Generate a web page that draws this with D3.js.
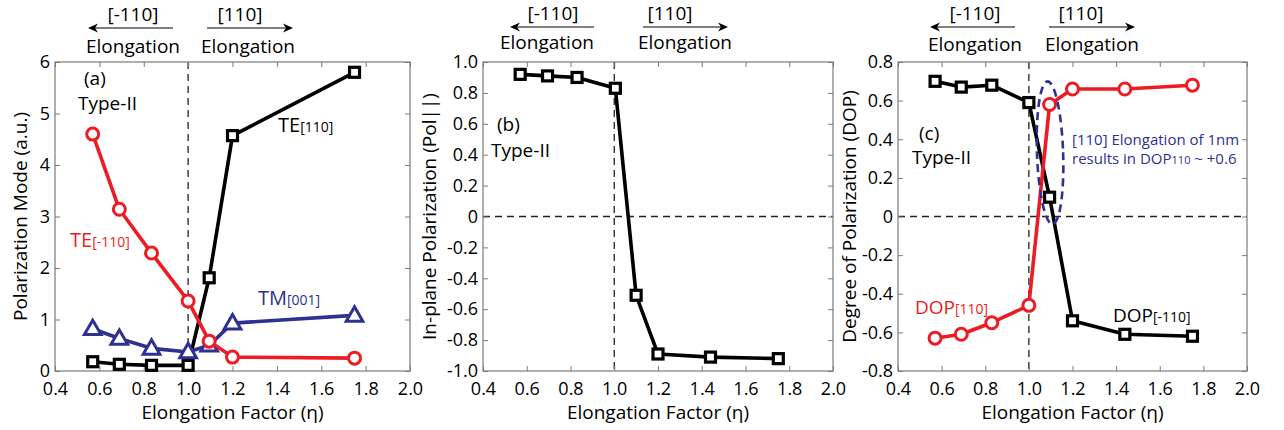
<!DOCTYPE html>
<html><head><meta charset="utf-8">
<script src="https://cdn.jsdelivr.net/npm/d3@7"></script>
<style>
body{margin:0;background:#fff}
svg{display:block}
text{font-family:"Open Sans",sans-serif}
</style>
</head><body>
<svg id="chart" width="1284" height="430"></svg>
<script>
// ---------- data ----------
const xTicks = [0.4, 0.6, 0.8, 1.0, 1.2, 1.4, 1.6, 1.8, 2.0];
const xTickLabels = ["0.4", "0.6", "0.8", "1.0", "1.2", "1.4", "1.6", "1.8", "2.0"];

// panel (a)
const etaA = [0.57, 0.69, 0.835, 1.0, 1.095, 1.2, 1.75];
const teA110 = [0.18, 0.13, 0.11, 0.11, 1.81, 4.57, 5.8];
const teAm110 = [4.6, 3.14, 2.29, 1.36, 0.58, 0.27, 0.25];
const tmA001 = [0.82, 0.63, 0.44, 0.37, 0.5, 0.93, 1.08];
const yTicksA = [0, 1, 2, 3, 4, 5, 6];
const yTickLabelsA = ["0", "1", "2", "3", "4", "5", "6"];

// panel (b)
const etaB = [0.57, 0.695, 0.83, 1.005, 1.1, 1.2, 1.44, 1.75];
const polB = [0.92, 0.91, 0.90, 0.83, -0.51, -0.89, -0.91, -0.92];
const yTicksB = [-1, -0.8, -0.6, -0.4, -0.2, 0, 0.2, 0.4, 0.6, 0.8, 1];
const yTickLabelsB = ["-1.0", "-0.8", "-0.6", "-0.4", "-0.2", "0", "0.2", "0.4", "0.6", "0.8", "1.0"];

// panel (c)
const etaC = [0.57, 0.69, 0.83, 1.0, 1.095, 1.2, 1.44, 1.75];
const dopC110 = [-0.63, -0.61, -0.55, -0.46, 0.58, 0.66, 0.66, 0.68];
const dopCm110 = [0.70, 0.67, 0.68, 0.59, 0.10, -0.54, -0.61, -0.62];
const yTicksC = [-0.8, -0.6, -0.4, -0.2, 0, 0.2, 0.4, 0.6, 0.8];
const yTickLabelsC = ["-0.8", "-0.6", "-0.4", "-0.2", "0", "0.2", "0.4", "0.6", "0.8"];

// ---------- styling ----------
const RED = "#ed1c24", BLUE = "#2e3192", BLACK = "#000";
const AXIS = "#7a7a7a";
const svg = d3.select("#chart");

function fmtFrom(ticks, labels) {
  return d => { const i = ticks.findIndex(t => Math.abs(t - d) < 1e-9); return i >= 0 ? labels[i] : ""; };
}

function makePanel(cfg) {
  const x = d3.scaleLinear().domain([0.4, 2.0]).range([cfg.left, cfg.right]);
  const y = d3.scaleLinear().domain(cfg.yDomain).range([cfg.bottom, cfg.top]);
  const g = svg.append("g");

  g.append("line").attr("x1", x(1.0)).attr("x2", x(1.0)).attr("y1", cfg.top).attr("y2", cfg.bottom)
    .attr("stroke", "#222").attr("stroke-width", 1.3).attr("stroke-dasharray", "7,5");
  if (cfg.zeroLine) {
    g.append("line").attr("x1", cfg.left).attr("x2", cfg.right).attr("y1", y(0)).attr("y2", y(0))
      .attr("stroke", "#222").attr("stroke-width", 1.3).attr("stroke-dasharray", "7,5");
  }

  const styleAxis = sel => {
    sel.select(".domain").remove();
    sel.selectAll(".tick line").attr("stroke", AXIS).attr("stroke-width", 1);
    sel.selectAll(".tick text").attr("fill", "#000").attr("font-size", 18)
      .attr("font-family", '"Open Sans",sans-serif');
    sel.attr("font-family", null).attr("font-size", null);
  };
  g.append("g").attr("transform", `translate(0,${cfg.bottom})`)
    .call(d3.axisBottom(x).tickValues(xTicks).tickFormat(fmtFrom(xTicks, xTickLabels)).tickSize(-5).tickPadding(11))
    .call(styleAxis);
  g.append("g").attr("transform", `translate(0,${cfg.top})`)
    .call(d3.axisTop(x).tickValues(xTicks).tickFormat("").tickSize(-5)).call(styleAxis);
  g.append("g").attr("transform", `translate(${cfg.left},0)`)
    .call(d3.axisLeft(y).tickValues(cfg.yTicks).tickFormat(fmtFrom(cfg.yTicks, cfg.yLabels)).tickSize(-5).tickPadding(5))
    .call(styleAxis);
  g.append("g").attr("transform", `translate(${cfg.right},0)`)
    .call(d3.axisRight(y).tickValues(cfg.yTicks).tickFormat("").tickSize(-5)).call(styleAxis);
  g.append("rect").attr("x", cfg.left).attr("y", cfg.top)
    .attr("width", cfg.right - cfg.left).attr("height", cfg.bottom - cfg.top)
    .attr("fill", "none").attr("stroke", AXIS).attr("stroke-width", 1.2);

  g.append("text").attr("x", (cfg.left + cfg.right) / 2).attr("y", 419)
    .attr("text-anchor", "middle").attr("font-size", 19).text("Elongation Factor (η)");
  g.append("text").attr("transform", `translate(${cfg.yTitleX},${(cfg.top + cfg.bottom) / 2}) rotate(-90)`)
    .attr("text-anchor", "middle").attr("font-size", 19).text(cfg.yTitle);

  return {g, x, y};
}

function drawSeries(p, xs, ys, color, marker) {
  const pts = xs.map((v, i) => [p.x(v), p.y(ys[i])]);
  p.g.append("path").attr("d", d3.line()(pts)).attr("fill", "none")
    .attr("stroke", color).attr("stroke-width", 3.6).attr("stroke-linejoin", "round");
  const m = p.g.append("g");
  pts.forEach(([px, py]) => {
    if (marker === "square") {
      m.append("rect").attr("x", px - 5).attr("y", py - 5).attr("width", 10).attr("height", 10)
        .attr("fill", "#fff").attr("stroke", color).attr("stroke-width", 3.2);
    } else if (marker === "circle") {
      m.append("circle").attr("cx", px).attr("cy", py).attr("r", 6)
        .attr("fill", "#fff").attr("stroke", color).attr("stroke-width", 3);
    } else {
      m.append("path").attr("d", d3.symbol(d3.symbolTriangle, 120)()).attr("transform", `translate(${px},${py + 1})`)
        .attr("fill", "#fff").attr("stroke", color).attr("stroke-width", 3).attr("stroke-linejoin", "miter");
    }
  });
}

function label(g, x, y, main, sub, color, size, subSize) {
  const t = g.append("text").attr("x", x).attr("y", y).attr("fill", color).attr("font-size", size);
  t.append("tspan").text(main);
  if (sub) t.append("tspan").attr("font-size", subSize).text(sub);
  return t;
}

function header(cx1, cx1e, cx2, cx2e, arrowL, arrowR, yTop, yElong) {
  const g = svg.append("g");
  g.append("text").attr("x", cx1).attr("y", yTop).attr("text-anchor", "middle").attr("font-size", 19).text("[-110]");
  g.append("text").attr("x", cx1e).attr("y", yElong).attr("text-anchor", "middle").attr("font-size", 19).text("Elongation");
  g.append("text").attr("x", cx2).attr("y", yTop).attr("text-anchor", "middle").attr("font-size", 19).text("[110]");
  g.append("text").attr("x", cx2e).attr("y", yElong).attr("text-anchor", "middle").attr("font-size", 19).text("Elongation");
  const ay = yTop + 7;
  g.append("line").attr("x1", arrowL[0]).attr("x2", arrowL[1] + 6).attr("y1", ay).attr("y2", ay).attr("stroke", "#000").attr("stroke-width", 1.2);
  g.append("path").attr("d", `M${arrowL[1]},${ay} l10,-4.5 l-3,4.5 l3,4.5 z`).attr("fill", "#000");
  g.append("line").attr("x1", arrowR[0]).attr("x2", arrowR[1] - 6).attr("y1", ay).attr("y2", ay).attr("stroke", "#000").attr("stroke-width", 1.2);
  g.append("path").attr("d", `M${arrowR[1]},${ay} l-10,-4.5 l3,4.5 l-3,4.5 z`).attr("fill", "#000");
}

// ---------- panel (a) ----------
const pA = makePanel({left: 55, right: 410, top: 62, bottom: 371, yDomain: [0, 6],
  yTicks: yTicksA, yLabels: yTickLabelsA, yTitle: "Polarization Mode (a.u.)", yTitleX: 27});
drawSeries(pA, etaA, teA110, BLACK, "square");
drawSeries(pA, etaA, tmA001, BLUE, "triangle");
drawSeries(pA, etaA, teAm110, RED, "circle");
label(pA.g, 84, 85, "(a)", null, "#000", 19);
label(pA.g, 78, 110, "Type-II", null, "#000", 19);
label(pA.g, 278, 132, "TE", "[110]", "#000", 20, 14);
label(pA.g, 70, 247, "TE", "[-110]", RED, 20, 14);
label(pA.g, 258, 305, "TM", "[001]", BLUE, 20, 14);
header(133, 133, 240, 248, [173, 88], [207, 293], 21, 53);

// ---------- panel (b) ----------
const pB = makePanel({left: 483, right: 833, top: 62, bottom: 371, yDomain: [-1, 1],
  yTicks: yTicksB, yLabels: yTickLabelsB, yTitle: "In-plane Polarization (Pol||)", yTitleX: 436, zeroLine: true});
drawSeries(pB, etaB, polB, BLACK, "square");
label(pB.g, 497, 131, "(b)", null, "#000", 19);
label(pB.g, 491, 157, "Type-II", null, "#000", 19);
header(553, 547, 670, 685, [594, 510], [643, 728], 20, 49);

// ---------- panel (c) ----------
const pC = makePanel({left: 898, right: 1247, top: 62, bottom: 371, yDomain: [-0.8, 0.8],
  yTicks: yTicksC, yLabels: yTickLabelsC, yTitle: "Degree of Polarization (DOP)", yTitleX: 856, zeroLine: true});
drawSeries(pC, etaC, dopCm110, BLACK, "square");
drawSeries(pC, etaC, dopC110, RED, "circle");
pC.g.append("ellipse")
  .attr("cx", pC.x(1.097)).attr("cy", pC.y(0.33))
  .attr("rx", pC.x(1.157) - pC.x(1.097)).attr("ry", pC.y(0.33) - pC.y(0.70))
  .attr("transform", `rotate(-2,${pC.x(1.097)},${pC.y(0.33)})`)
  .attr("fill", "none").attr("stroke", BLUE).attr("stroke-width", 2.6).attr("stroke-dasharray", "8,5");
label(pC.g, 919, 140, "(c)", null, "#000", 19);
label(pC.g, 912, 164, "Type-II", null, "#000", 19);
label(pC.g, 915, 314, "DOP", "[110]", RED, 19, 14);
label(pC.g, 1113, 322, "DOP", "[-110]", "#000", 19, 14);
label(pC.g, 1072, 145, "[110] Elongation of 1nm", null, BLUE, 15);
const ann = label(pC.g, 1072, 164, "results in DOP", "110", BLUE, 15, 11);
ann.append("tspan").text(" ~ +0.6");
header(975, 975, 1081, 1092, [1015, 930], [1049, 1135], 20, 51);
</script>
</body></html>
